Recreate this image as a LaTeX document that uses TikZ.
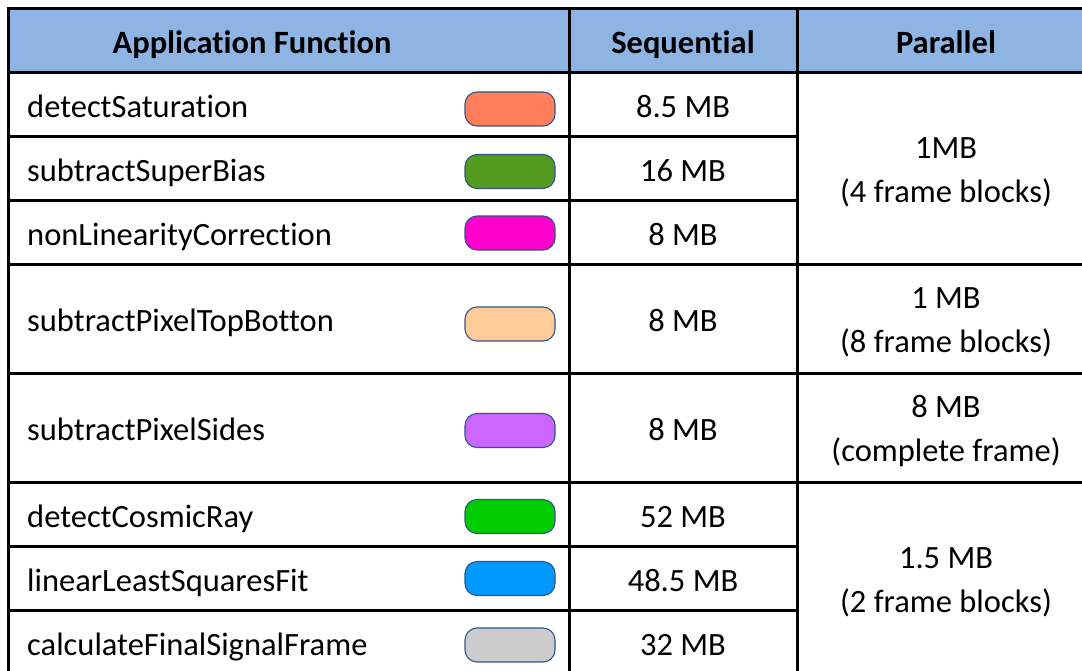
\documentclass[tikz,border=0pt]{standalone}
\usepackage{fontspec}
\setmainfont{Carlito}[Ligatures={NoCommon}]
\definecolor{hdrblue}{RGB}{142,180,227}
\definecolor{pillborder}{RGB}{47,85,140}
\definecolor{cSat}{RGB}{255,127,90}
\definecolor{cBias}{RGB}{84,154,30}
\definecolor{cLin}{RGB}{255,0,204}
\definecolor{cTop}{RGB}{255,204,153}
\definecolor{cSide}{RGB}{204,102,255}
\definecolor{cCos}{RGB}{0,204,0}
\definecolor{cFit}{RGB}{0,153,255}
\definecolor{cFin}{RGB}{204,204,204}
\begin{document}
\begin{tikzpicture}[x=1pt,y=-1pt,
  gridline/.style={line width=3pt,black,line cap=rect},
  pill/.style={draw=pillborder,line width=1.1pt,rounded corners=12pt,
    minimum width=90pt,minimum height=34pt,inner sep=0pt},
  txt/.style={inner sep=0pt,anchor=base,font=\fontsize{32.5}{44}\selectfont},
  ltxt/.style={txt,anchor=base west},
  htxt/.style={txt,font=\fontsize{32.5}{44}\selectfont\bfseries}]
\useasboundingbox (0,0) rectangle (1082,670);
\clip (0,0) rectangle (1082,670);
\fill[white] (0,0) rectangle (1082,670);
% header band
\fill[hdrblue] (8,8) rectangle (1110,72);
% grid
\draw[gridline] (1110,8) -- (8,8) -- (8,700);
\draw[gridline] (569,8) -- (569,700);
\draw[gridline] (797,8) -- (797,700);
\foreach \yy in {72,264,373,482,674}
  \draw[gridline] (8,\yy) -- (1110,\yy);
\foreach \yy in {136,200,546,610}
  \draw[gridline] (8,\yy) -- (797,\yy);
% header
\node[htxt] (hApp) at (252,53) {Application Function};
\node[htxt] (hSeq) at (683,53) {Sequential};
\node[htxt] (hPar) at (946,53) {Parallel};
% function names
\node[ltxt] (f1) at (27,117) {detectSaturation};
\node[ltxt] (f2) at (27,181) {subtractSuperBias};
\node[ltxt] (f3) at (27,245) {nonLinearityCorrection};
\node[ltxt] (f4) at (27,331.5) {subtractPixelTopBotton};
\node[ltxt] (f5) at (27,440.5) {subtractPixelSides};
\node[ltxt] (f6) at (27,527) {detectCosmicRay};
\node[ltxt] (f7) at (27,591) {linearLeastSquaresFit};
\node[ltxt] (f8) at (27,655) {calculateFinalSignalFrame};
% colour keys
\node[pill,fill=cSat]  (p1) at (510,109) {};
\node[pill,fill=cBias] (p2) at (510,171.5) {};
\node[pill,fill=cLin]  (p3) at (510,233) {};
\node[pill,fill=cTop]  (p4) at (510,324) {};
\node[pill,fill=cSide] (p5) at (510,430.5) {};
\node[pill,fill=cCos]  (p6) at (510,516.5) {};
\node[pill,fill=cFit]  (p7) at (510,578.5) {};
\node[pill,fill=cFin]  (p8) at (510,645) {};
% sequential sizes
\node[txt] (s1) at (683,117) {8.5 MB};
\node[txt] (s2) at (683,181) {16 MB};
\node[txt] (s3) at (683,245) {8 MB};
\node[txt] (s4) at (683,331.5) {8 MB};
\node[txt] (s5) at (683,440.5) {8 MB};
\node[txt] (s6) at (683,527) {52 MB};
\node[txt] (s7) at (683,591) {48.5 MB};
\node[txt] (s8) at (683,655) {32 MB};
% parallel sizes
\node[txt] (q1a) at (946,158) {1MB};
\node[txt] (q1b) at (946,202) {(4 frame blocks)};
\node[txt] (q2a) at (946,308) {1 MB};
\node[txt] (q2b) at (946,352) {(8 frame blocks)};
\node[txt] (q3a) at (946,417) {8 MB};
\node[txt] (q3b) at (946,461) {(complete frame)};
\node[txt] (q4a) at (946,568) {1.5 MB};
\node[txt] (q4b) at (946,612) {(2 frame blocks)};
\end{tikzpicture}
\end{document}
